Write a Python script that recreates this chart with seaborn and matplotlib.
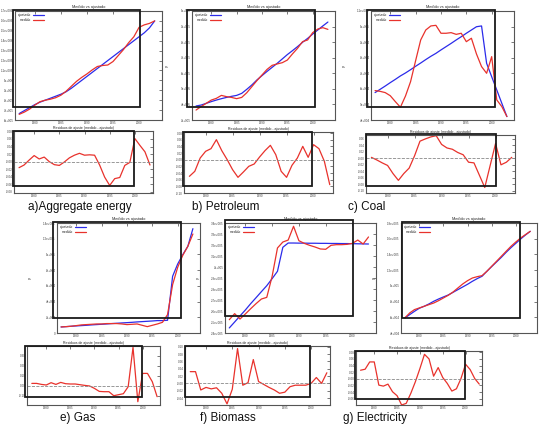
import numpy as np
import pandas as pd
import matplotlib
matplotlib.use("Agg")
import matplotlib.pyplot as plt
from matplotlib.patches import Rectangle
import seaborn as sns

sns.set_style("white")
plt.rcParams['font.family'] = ['Liberation Sans', 'DejaVu Sans']

years = list(range(1977, 2004))

# main panels: observed (red) and fitted (blue)
agg_obs = [657e3, 680e3, 710e3, 750e3, 785e3, 800e3, 810e3, 825e3, 850e3, 890e3, 940e3, 990e3, 1030e3, 1065e3,
           1105e3, 1140e3, 1150e3, 1155e3, 1190e3, 1250e3, 1310e3, 1380e3, 1440e3, 1535e3, 1560e3, 1575e3, 1600e3]
agg_fit = [665e3, 695e3, 725e3, 755e3, 780e3, 800e3, 820e3, 840e3, 860e3, 885e3, 920e3, 960e3, 1000e3, 1040e3,
           1080e3, 1120e3, 1160e3, 1200e3, 1240e3, 1280e3, 1320e3, 1360e3, 1400e3, 1440e3, 1480e3, 1530e3, 1600e3]

pet_obs = [364e3, 386e3, 407e3, 428e3, 439e3, 458e3, 450e3, 445e3, 437e3, 445e3, 475e3, 514e3, 553e3, 589e3,
           625e3, 651e3, 660e3, 668e3, 685e3, 724e3, 760e3, 803e3, 814e3, 861e3, 884e3, 893e3, 882e3]
pet_fit = [390e3, 396e3, 407e3, 418e3, 428e3, 437e3, 445e3, 452e3, 458e3, 471e3, 497e3, 525e3, 557e3, 585e3,
           612e3, 638e3, 664e3, 692e3, 720e3, 745e3, 771e3, 799e3, 824e3, 852e3, 878e3, 904e3, 929e3]

coal_obs = [58.9e3, 58.4e3, 57.6e3, 55.6e3, 51.8e3, 48.2e3, 55.4e3, 64.6e3, 78.1e3, 91.4e3, 97.8e3, 100.4e3, 100.8e3,
            95.7e3, 95.7e3, 96.1e3, 95.0e3, 95.7e3, 90.3e3, 92.5e3, 82.4e3, 74.3e3, 70.0e3, 80.7e3, 52.9e3, 48.6e3, 42.2e3]
coal_fit = [57.6e3, 59.7e3, 61.8e3, 64.0e3, 66.1e3, 68.3e3, 70.2e3, 72.3e3, 74.5e3, 76.6e3, 78.8e3, 80.9e3, 82.8e3,
            85.0e3, 87.1e3, 89.2e3, 91.4e3, 93.5e3, 95.7e3, 97.8e3, 99.9e3, 100.4e3, 76.4e3, 67.8e3, 59.3e3, 50.7e3, 42.2e3]

gas_obs = [7.7e3, 8.1e3, 8.6e3, 9.4e3, 10.3e3, 10.7e3, 11.1e3, 11.5e3, 11.5e3, 12.0e3, 12.0e3, 12.0e3, 11.5e3, 10.7e3,
           11.1e3, 11.5e3, 9.8e3, 8.1e3, 9.8e3, 11.5e3, 13.6e3, 23.4e3, 61.6e3, 83.6e3, 98.9e3, 110.3e3, 126.0e3]
gas_fit = [7.7e3, 8.1e3, 8.6e3, 9.0e3, 9.4e3, 9.8e3, 10.3e3, 10.7e3, 11.1e3, 11.5e3, 12.0e3, 12.4e3, 12.8e3, 13.2e3,
           13.6e3, 14.1e3, 14.5e3, 14.9e3, 15.3e3, 15.8e3, 15.8e3, 16.2e3, 72.2e3, 87.8e3, 99.7e3, 110.3e3, 132.8e3]

bio_obs = [252.1e3, 257.6e3, 252.7e3, 257.3e3, 262.1e3, 266.7e3, 270.9e3, 272.4e3, 291.5e3, 317.3e3, 322.7e3, 324.5e3,
           337.0e3, 323.9e3, 321.5e3, 319.7e3, 318.2e3, 316.4e3, 316.1e3, 319.7e3, 320.3e3, 320.3e3, 320.6e3, 321.5e3,
           324.5e3, 320.9e3, 327.3e3]
bio_fit = [244.6e3, 250.0e3, 255.5e3, 260.9e3, 266.7e3, 272.1e3, 277.6e3, 283.0e3, 289.4e3, 296.1e3, 317.9e3, 321.8e3,
           321.8e3, 321.7e3, 321.7e3, 321.6e3, 321.6e3, 321.5e3, 321.5e3, 321.4e3, 321.4e3, 321.3e3, 321.3e3, 321.2e3,
           321.1e3, 321.0e3, 320.9e3]

ele_obs = [59.2e3, 65.5e3, 69.8e3, 71.9e3, 74.0e3, 76.1e3, 78.2e3, 81.2e3, 84.6e3, 88.0e3, 92.2e3, 97.3e3, 102.4e3,
           106.6e3, 110.0e3, 111.7e3, 113.0e3, 118.5e3, 124.9e3, 131.2e3, 137.6e3, 144.0e3, 150.3e3, 155.8e3, 160.9e3,
           165.2e3, 169.4e3]
ele_fit = [59.2e3, 63.4e3, 67.6e3, 71.5e3, 74.0e3, 77.0e3, 80.4e3, 83.3e3, 85.9e3, 88.4e3, 91.8e3, 95.2e3, 98.6e3,
           102.0e3, 105.8e3, 109.2e3, 112.2e3, 118.5e3, 124.5e3, 130.4e3, 136.3e3, 142.7e3, 148.6e3, 154.1e3, 159.6e3,
           164.7e3, 169.4e3]

# residual panels
agg_res = [-0.016, -0.009, 0.004, 0.016, 0.007, 0.012, 0.0, -0.008, -0.010, -0.001, 0.010, 0.017, 0.022, 0.017,
           0.018, 0.017, -0.009, -0.041, -0.063, -0.045, -0.042, -0.010, -0.002, 0.061, 0.043, 0.026, -0.009]
pet_res = [-0.050, -0.035, 0.005, 0.025, 0.033, 0.060, 0.027, 0.0, -0.030, -0.053, -0.037, -0.020, -0.013, 0.008,
           0.027, 0.043, 0.015, -0.035, -0.053, -0.017, 0.005, 0.040, 0.007, 0.045, 0.033, -0.005, -0.075]
coal_res = [0.003, -0.005, -0.014, -0.022, -0.047, -0.068, -0.047, -0.030, 0.008, 0.053, 0.060, 0.066, 0.070, 0.043,
            0.032, 0.028, 0.018, 0.011, -0.012, -0.014, -0.052, -0.090, -0.022, 0.046, -0.020, -0.012, 0.003]
gas_res = [0.023, 0.023, 0.013, 0.007, 0.030, 0.013, 0.033, 0.020, 0.017, 0.017, 0.010, 0.003, -0.003, -0.027,
           -0.057, -0.060, -0.060, -0.100, -0.090, -0.080, -0.010, 0.383, -0.160, 0.123, 0.123, 0.040, -0.110]
bio_res = [0.032, 0.032, -0.018, -0.011, -0.015, -0.012, -0.027, -0.056, -0.016, 0.095, -0.005, 0.002, 0.065, 0.005,
           -0.003, -0.011, -0.018, -0.027, -0.024, -0.009, -0.005, -0.005, -0.005, 0.0, 0.016, 0.0, 0.029]
ele_res = [0.026, 0.029, 0.051, 0.051, -0.019, -0.022, -0.016, -0.039, -0.051, -0.079, -0.074, -0.044, -0.009, 0.031,
           0.074, 0.060, 0.008, 0.034, 0.004, -0.014, -0.037, -0.030, 0.001, 0.044, 0.028, 0.001, -0.016]

labels = ["a)Aggregate energy", "b) Petroleum", "c) Coal", "e) Gas", "f) Biomass", "g) Electricity"]

BLUE = "#2b2bea"
RED = "#e8322c"
W, H = 540, 436

fig = plt.figure(figsize=(5.4, 4.36), dpi=100)


def px_axes(l, t, r, b):
    return fig.add_axes([l / W, 1 - b / H, (r - l) / W, (b - t) / H])


def px_rect(l, t, r, b):
    fig.add_artist(Rectangle((l / W, 1 - b / H), (r - l) / W, (b - t) / H, transform=fig.transFigure,
                             fill=False, ec="#1a1a1a", lw=1.3, zorder=20))


def sci(v, pos):
    if abs(v) < 1e-9:
        return "0"
    m, e = f"{v:.1e}".split("e")
    m = m.rstrip("0").rstrip(".")
    return f"{m}e+{int(e):03d}"


def style(ax):
    for s in ax.spines.values():
        s.set_color("#555555")
        s.set_linewidth(0.8)
    ax.tick_params(direction="in", length=2, width=0.5, labelsize=2.2, pad=1.0,
                   top=True, right=True, colors="#444444")
    ax.set_xticks([1980, 1985, 1990, 1995, 2000])


def main_panel(box, obs, fit, ylim, step, ylab=True):
    ax = px_axes(*box)
    df = pd.DataFrame({"year": years, "ajustado": fit, "medido": obs})
    sns.lineplot(data=df, x="year", y="ajustado", ax=ax, color=BLUE, lw=0.9, label="ajustado")
    sns.lineplot(data=df, x="year", y="medido", ax=ax, color=RED, lw=0.9, label="medido")
    ax.set_xlim(1976.2, 2004.4)
    ax.set_ylim(*ylim)
    ax.set_yticks(np.arange(ylim[0], ylim[1] + step / 2, step))
    ax.yaxis.set_major_formatter(plt.FuncFormatter(sci))
    ax.set_xlabel("")
    ax.set_ylabel("y" if ylab else "", fontsize=3, labelpad=8)
    ax.set_title("Medido vs ajustado", fontsize=2.8, pad=2)
    style(ax)
    ax.legend(loc="upper left", fontsize=2.5, frameon=False, markerfirst=False,
              handlelength=3, borderaxespad=0.3, labelspacing=0.2)
    return ax


def res_panel(box, res, ylim, step):
    ax = px_axes(*box)
    sns.lineplot(x=years, y=res, ax=ax, color=RED, lw=0.9)
    ax.axhline(0, color="#888888", lw=0.6, ls="--")
    ax.set_xlim(1976.0, 2003.6)
    ax.set_yticks(np.arange(-0.2, 0.41, step))
    ax.set_ylim(*ylim)
    ax.yaxis.set_major_formatter(plt.FuncFormatter(lambda v, p: f"{v:.2f}"))
    ax.set_title("Residuos de ajuste (medido - ajustado)", fontsize=2.5, pad=1.5)
    style(ax)
    return ax


# top row
main_panel((15, 11, 162, 120), agg_obs, agg_fit, (6e5, 1.7e6), 1e5, ylab=False)
main_panel((192, 11, 335, 120), pet_obs, pet_fit, (3e5, 1e6), 1e5)
main_panel((371, 11, 514, 120), coal_obs, coal_fit, (4e4, 1.1e5), 1e4)
res_panel((14, 131, 153, 193), agg_res, (-0.083, 0.081), 0.02)
res_panel((184, 132, 333, 193), pet_res, (-0.1, 0.083), 0.02)
res_panel((366, 135, 515, 193), coal_res, (-0.107, 0.072), 0.02)

# bottom row
main_panel((57, 223, 200, 333), gas_obs, gas_fit, (0, 1.4e5), 2e4)
main_panel((225, 223, 376, 333), bio_obs, bio_fit, (2.4e5, 3.4e5), 1e4)
main_panel((401, 223, 537, 333), ele_obs, ele_fit, (4e4, 1.8e5), 2e4)
res_panel((27, 346, 160, 405), gas_res, (-0.193, 0.397), 0.1)
res_panel((185, 346, 330, 405), bio_res, (-0.059, 0.102), 0.02)
res_panel((356, 351, 482, 405), ele_res, (-0.079, 0.084), 0.02)

# dark frames around parts of each panel
for r in [(13, 10, 140, 107), (13, 131, 134, 186), (187, 10, 315, 107), (183, 132, 312, 186),
          (367, 10, 495, 107), (366, 134, 496, 186), (53, 222, 181, 318), (225, 220, 353, 316),
          (402, 222, 520, 318), (25, 346, 142, 397), (185, 346, 310, 397), (355, 351, 465, 399)]:
    px_rect(*r)

# panel captions
for txt, x, y in zip(labels, [28, 192, 348, 60, 200, 343], [207, 207, 207, 418, 418, 418]):
    fig.text(x / W, 1 - y / H, txt, fontsize=8.5, ha="left", va="center", color="#111111")

fig.savefig("out.png", dpi=100)
